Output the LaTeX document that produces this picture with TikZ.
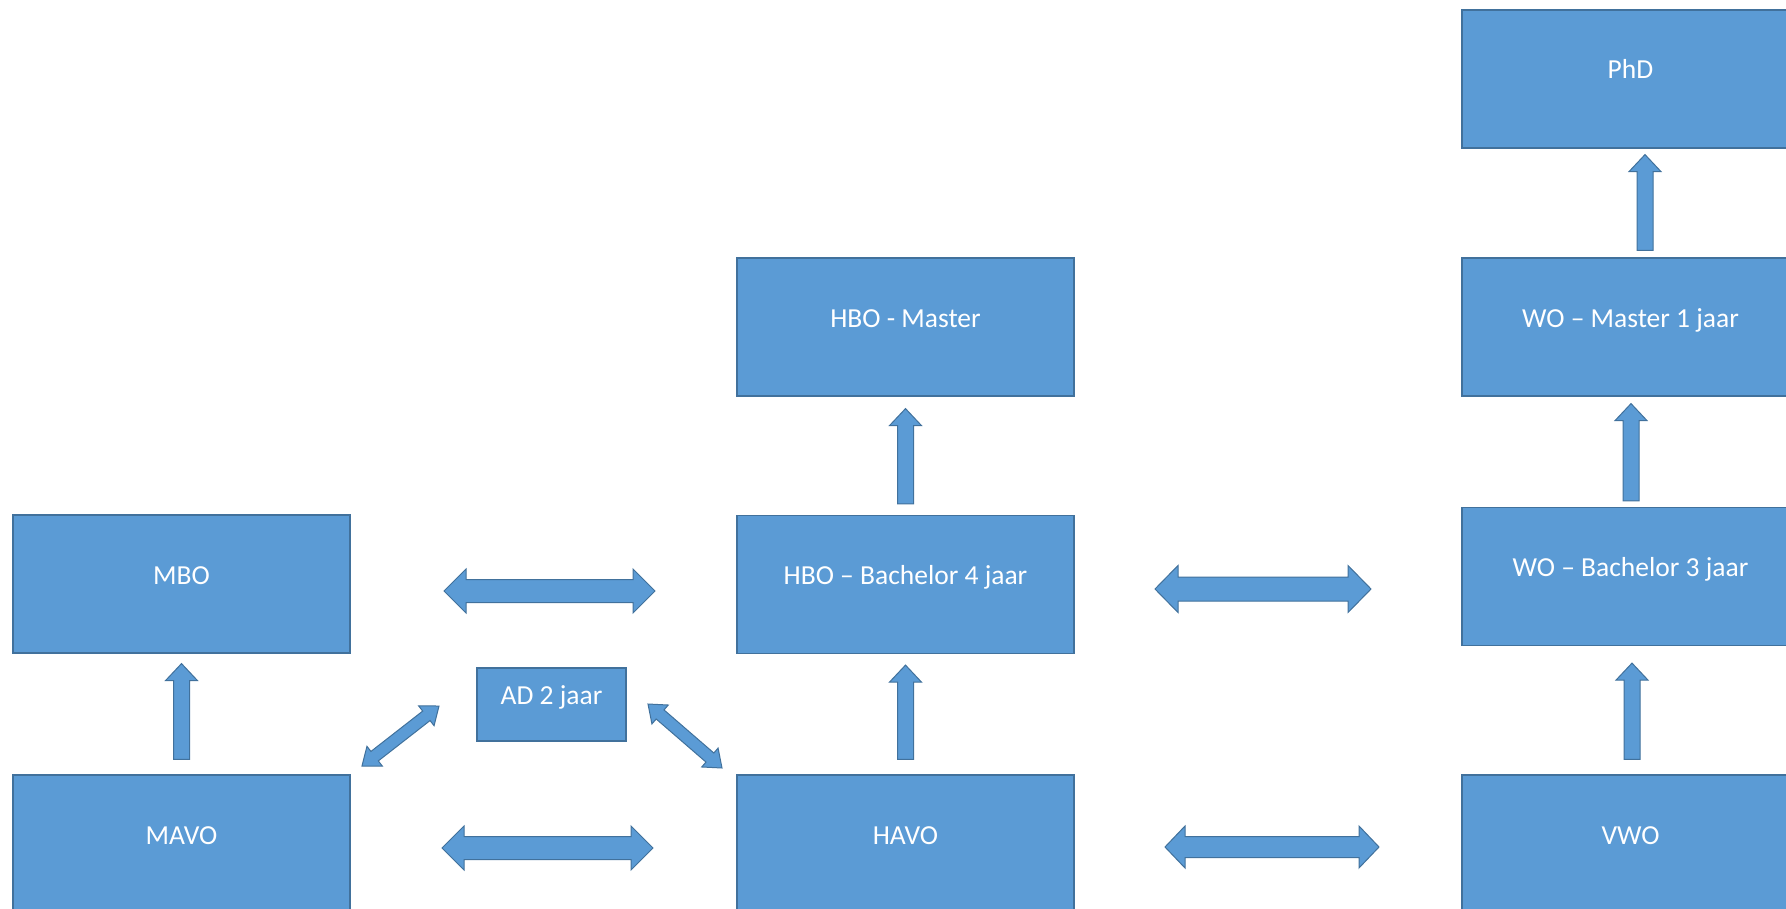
\documentclass[tikz,border=0pt]{standalone}
\usepackage{fontspec}
\setmainfont{Carlito}
\usetikzlibrary{calc}
\definecolor{boxfill}{HTML}{5B9BD5}
\definecolor{boxline}{HTML}{41719C}
\tikzset{
 blk/.style={draw=boxline, fill=boxfill, line width=1.2pt, text=white,
   font=\fontsize{27.5}{30}\selectfont, minimum width=337pt, minimum height=138pt,
   inner sep=0pt, text height=20pt, text depth=20pt},
 small/.style={blk, minimum width=149pt, minimum height=73pt},
 arr/.style={draw=boxline, fill=boxfill, line width=1pt, line join=miter}
}
\newcommand\uparr[2]{% tail, tip
 \coordinate (hb) at ($(#2)!17pt!(#1)$);
 \draw[arr] (#2) -- ($(hb)!16pt!90:(#1)$) -- ($(hb)!8pt!90:(#1)$) -- ($(#1)!8pt!-90:(#2)$) -- ($(#1)!8pt!90:(#2)$) -- ($(hb)!8pt!-90:(#1)$) -- ($(hb)!16pt!-90:(#1)$) -- cycle;}
\newcommand\dblarr[5]{% A, B, headlen, shafthalf, headhalf
 \coordinate (ha) at ($(#1)!#3!(#2)$);
 \coordinate (hb) at ($(#2)!#3!(#1)$);
 \draw[arr] (#1) -- ($(ha)!#5!90:(#2)$) -- ($(ha)!#4!90:(#2)$) -- ($(hb)!#4!-90:(#1)$) -- ($(hb)!#5!-90:(#1)$) -- (#2) -- ($(hb)!#5!90:(#1)$) -- ($(hb)!#4!90:(#1)$) -- ($(ha)!#4!-90:(#2)$) -- ($(ha)!#5!-90:(#2)$) -- cycle;}
\begin{document}
\begin{tikzpicture}[x=1pt,y=-1pt]
\useasboundingbox (0,0) rectangle (1786,909);
\clip (0,0) rectangle (1786,909);
\node[blk] (mbo) at (181.5,584) {MBO};
\node[blk] (mavo) at (181.5,844) {MAVO};
\node[small] (ad) at (551.5,704.5) {AD 2 jaar};
\node[blk] (hbom) at (905.5,327) {HBO - Master};
\node[blk] (hbob) at (905.5,584.5) {HBO – Bachelor 4 jaar};
\node[blk] (havo) at (905.5,844) {HAVO};
\node[blk] (phd) at (1630.5,79) {PhD};
\node[blk] (wom) at (1630.5,327) {WO – Master 1 jaar};
\node[blk] (wob) at (1630.5,576.5) {WO – Bachelor 3 jaar};
\node[blk] (vwo) at (1630.5,844) {VWO};
% up arrows
\uparr{$(mavo.north)+(0,-15)$}{$(mbo.south)+(0,10)$}
\uparr{$(havo.north)+(0,-15)$}{$(hbob.south)+(0,11)$}
\uparr{$(hbob.north)+(0,-11)$}{$(hbom.south)+(0,12)$}
\uparr{$(vwo.north)+(1.5,-15)$}{$(wob.south)+(1.5,17)$}
\uparr{$(wob.north)+(0.5,-6)$}{$(wom.south)+(0.5,7)$}
\uparr{$(wom.north)+(14.5,-7)$}{$(phd.south)+(14.5,6)$}
% double arrows
\coordinate (tl1) at (444,591); \coordinate (tl2) at (655,591);
\coordinate (bl1) at (442,848); \coordinate (bl2) at (653,848);
\coordinate (tr1) at (1155,589); \coordinate (tr2) at (1371,589);
\coordinate (br1) at (1165,847); \coordinate (br2) at (1379,847);
\coordinate (dl1) at (362,766); \coordinate (dl2) at (439,706);
\coordinate (dr1) at (648,704); \coordinate (dr2) at (722,768);
\dblarr{tl1}{tl2}{22pt}{11.5pt}{22pt}
\dblarr{bl1}{bl2}{22pt}{11.5pt}{22pt}
\dblarr{tr1}{tr2}{23pt}{12pt}{23.5pt}
\dblarr{br1}{br2}{20pt}{10.5pt}{21pt}
\dblarr{dl1}{dl2}{16pt}{6pt}{12.5pt}
\dblarr{dr1}{dr2}{16pt}{6pt}{12.5pt}
\end{tikzpicture}
\end{document}
